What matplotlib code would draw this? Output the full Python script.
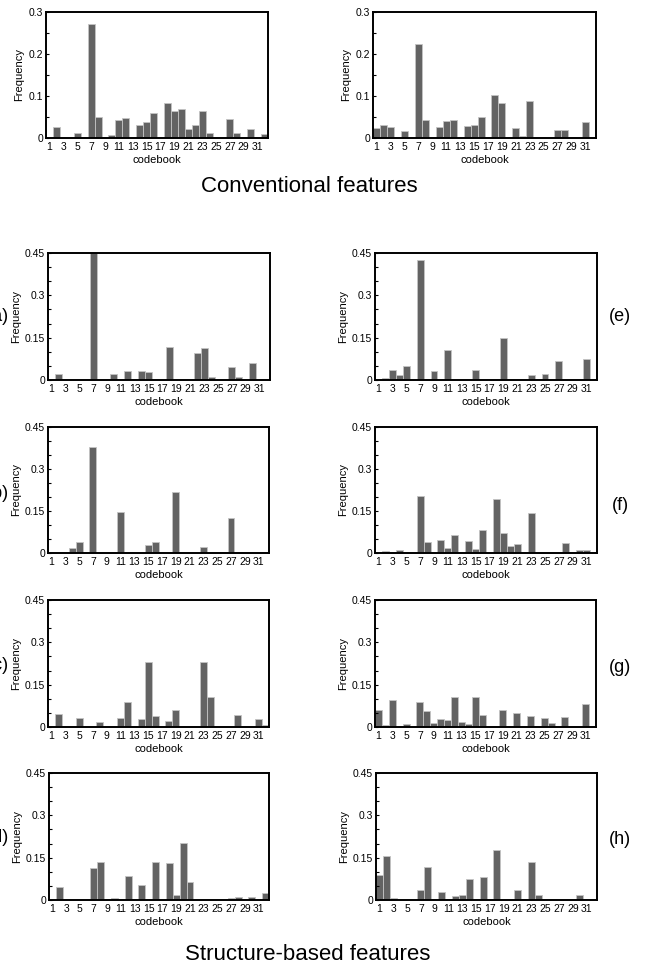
import numpy as np
import matplotlib
matplotlib.use('Agg')
import matplotlib.pyplot as plt
from matplotlib.ticker import MultipleLocator

plt.rcParams['font.family'] = ['Liberation Sans Narrow', 'Liberation Sans', 'DejaVu Sans']

codebook = np.arange(1, 33)
xtick_labels = [str(k) for k in range(1, 32, 2)]

# frequencies per codebook entry (1..32)
conv_left = [0, 0.025, 0, 0, 0.013, 0, 0.272, 0.049, 0, 0.008, 0.042, 0.047, 0, 0.030, 0.038, 0.060,
             0, 0.083, 0.065, 0.070, 0.022, 0.032, 0.064, 0.013, 0, 0, 0.046, 0.012, 0, 0.022, 0, 0.010]
conv_right = [0.024, 0.030, 0.027, 0, 0.017, 0, 0.224, 0.042, 0, 0.027, 0.041, 0.043, 0, 0.029, 0.032, 0.050,
              0, 0.102, 0.083, 0, 0.024, 0.004, 0.087, 0, 0, 0, 0.020, 0.018, 0, 0, 0.039, 0]
struct_a = [0, 0.021, 0, 0, 0, 0, 0.46, 0, 0, 0.021, 0, 0.032, 0, 0.031, 0.027, 0,
            0, 0.116, 0, 0, 0, 0.097, 0.112, 0.009, 0, 0, 0.046, 0.011, 0, 0.059, 0, 0]
struct_b = [0, 0, 0, 0.018, 0.039, 0, 0.38, 0, 0, 0, 0.148, 0, 0, 0, 0.030, 0.041,
            0, 0, 0.218, 0, 0, 0, 0.021, 0, 0, 0, 0.126, 0, 0, 0, 0, 0]
struct_c = [0, 0.045, 0, 0, 0.033, 0, 0, 0.017, 0, 0, 0.033, 0.088, 0, 0.027, 0.231, 0.038,
            0, 0.021, 0.061, 0, 0, 0, 0.231, 0.105, 0, 0, 0, 0.044, 0, 0, 0.029, 0.006]
struct_d = [0, 0.045, 0.004, 0, 0, 0, 0.112, 0.134, 0, 0.006, 0.003, 0.084, 0, 0.053, 0, 0.136,
            0, 0.131, 0.017, 0.201, 0.063, 0, 0, 0, 0, 0, 0.006, 0.012, 0, 0.012, 0, 0.025]
struct_e = [0, 0.007, 0.037, 0.016, 0.050, 0, 0.425, 0, 0.032, 0, 0.108, 0, 0, 0, 0.035, 0,
            0, 0, 0.148, 0.004, 0, 0, 0.018, 0, 0.020, 0, 0.067, 0, 0, 0, 0.073, 0]
struct_f = [0, 0.007, 0, 0.012, 0, 0, 0.204, 0.039, 0, 0.046, 0.017, 0.064, 0, 0.044, 0.015, 0.081,
            0, 0.192, 0.071, 0.026, 0.031, 0, 0.142, 0, 0, 0, 0, 0.034, 0, 0.011, 0.012, 0]
struct_g = [0.059, 0.006, 0.096, 0, 0.009, 0, 0.088, 0.056, 0.014, 0.030, 0.025, 0.108, 0.017, 0.009, 0.108, 0.041,
            0, 0, 0.062, 0.003, 0.049, 0, 0.038, 0.003, 0.032, 0.015, 0, 0.037, 0, 0, 0.083, 0]
struct_h = [0.089, 0.156, 0.007, 0, 0, 0, 0.034, 0.118, 0, 0.030, 0, 0.014, 0.018, 0.075, 0, 0.082,
            0, 0.178, 0, 0, 0.036, 0.004, 0.134, 0.018, 0, 0.004, 0, 0, 0, 0.018, 0, 0]

conv_yticks = [0, 0.1, 0.2, 0.3]
conv_ylabels = ['0', '0.1', '0.2', '0.3']
struct_yticks = [0, 0.15, 0.3, 0.45]
struct_ylabels = ['0', '0.15', '0.3', '0.45']

W, H = 646, 966
fig = plt.figure(figsize=(W / 100, H / 100), dpi=100)


def panel(x0, x1, y0, y1, data, yticks, ylabels):
    ax = fig.add_axes([x0 / W, 1 - y1 / H, (x1 - x0) / W, (y1 - y0) / H])
    ax.bar(codebook, data, width=1.0, color='#636363', edgecolor='#c4c4c4', linewidth=0.6)
    ax.set_xlim(0.5, 32.5)
    ax.set_ylim(0, yticks[-1])
    ax.set_xticks(range(1, 32, 2))
    ax.set_xticklabels(xtick_labels, fontsize=7.5)
    ax.set_yticks(yticks)
    ax.set_yticklabels(ylabels, fontsize=7.5)
    ax.yaxis.set_minor_locator(MultipleLocator(0.05))
    ax.tick_params(axis='x', length=0, pad=3)
    ax.tick_params(axis='y', which='both', direction='in', length=2, width=0.8, pad=2)
    ax.set_xlabel('codebook', fontsize=8, labelpad=2)
    ax.set_ylabel('Frequency', fontsize=8, labelpad=3)
    for s in ax.spines.values():
        s.set_linewidth(1.4)
        s.set_color('black')
    return ax


panel(46, 268, 12, 138, conv_left, conv_yticks, conv_ylabels)
panel(373, 596, 12, 138, conv_right, conv_yticks, conv_ylabels)

panel(48, 270, 253, 380, struct_a, struct_yticks, struct_ylabels)
panel(375, 597, 253, 380, struct_e, struct_yticks, struct_ylabels)
panel(48, 269, 427, 553, struct_b, struct_yticks, struct_ylabels)
panel(375, 597, 427, 553, struct_f, struct_yticks, struct_ylabels)
panel(48, 269, 600, 727, struct_c, struct_yticks, struct_ylabels)
panel(375, 596, 600, 727, struct_g, struct_yticks, struct_ylabels)
panel(49, 269, 773, 900, struct_d, struct_yticks, struct_ylabels)
panel(376, 597, 773, 900, struct_h, struct_yticks, struct_ylabels)

fig.text(309 / W, 1 - 187 / H, 'Conventional features', fontsize=16,
         family=['Liberation Sans', 'DejaVu Sans'], ha='center', va='center')
fig.text(308 / W, 1 - 955 / H, 'Structure-based features', fontsize=16,
         family=['Liberation Sans', 'DejaVu Sans'], ha='center', va='center')

for lab, y in zip(['(a)', '(b)', '(c)', '(d)'], [317, 493, 665, 838]):
    fig.text(9 / W, 1 - y / H, lab, fontsize=13, family=['Liberation Sans', 'DejaVu Sans'],
             ha='right', va='center')
for lab, y in zip(['(e)', '(f)', '(g)', '(h)'], [317, 505, 668, 840]):
    fig.text(620 / W, 1 - y / H, lab, fontsize=13, family=['Liberation Sans', 'DejaVu Sans'],
             ha='center', va='center')

fig.savefig('out.png', dpi=100)
